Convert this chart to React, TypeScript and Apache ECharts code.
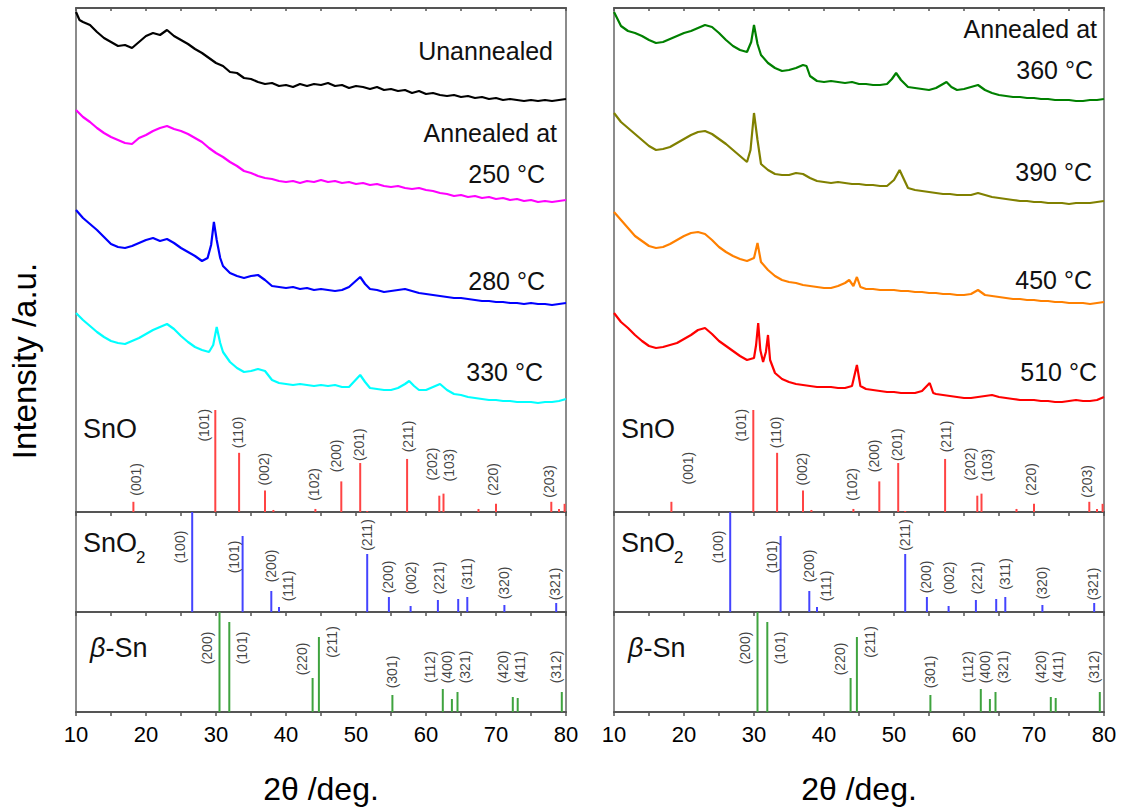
import React, { useEffect, useRef } from "react";
import * as echarts from "echarts";

const FONT = "'Liberation Sans', Arial, sans-serif";

// XRD patterns: [2θ (deg), intensity (a.u., stacked offset)]
const unannealed = [[10,500],[10.5,492],[11,490],[12,487],[13,480],[14,474],[15,470],[16,466],[17,467],[18,464],[19,470],[20,476],[21,479],[22,477],[23,482],[24,476],[25,472],[26,468],[27,463],[28,459],[29,454],[30,449],[31,446],[32,440],[33,439],[34,434],[35,433],[36,430],[37,428],[38,429],[39,426],[40,427],[41,425],[42,428],[43,426],[44,428],[45,427],[46,429],[47,426],[48,427],[49,424],[50,426],[51,425],[52,423],[53,425],[54,422],[55,423],[56,421],[57,422],[58,419],[59,421],[60,418],[61,419],[62,417],[63,416],[64,417],[65,415],[66,416],[67,414],[68,415],[69,413],[70,414],[71,412],[72,413],[73,412],[74,411],[75,412],[76,411],[77,412],[78,411],[79,412],[80,413]];
const t250 = [[10,402],[11,395],[12,390],[13,384],[14,379],[15,375],[16,372],[17,369],[18,368],[19,374],[20,377],[21,381],[22,384],[23,386],[24,383],[25,381],[26,378],[27,374],[28,370],[29,364],[30,359],[31,355],[32,350],[33,346],[34,341],[35,339],[36,336],[37,334],[38,333],[39,331],[40,330],[41,331],[42,329],[43,331],[44,330],[45,332],[46,330],[47,331],[48,329],[49,330],[50,328],[51,329],[52,327],[53,328],[54,326],[55,325],[56,326],[57,324],[58,323],[59,324],[60,322],[61,321],[62,319],[63,318],[64,316],[65,317],[66,315],[67,316],[68,314],[69,315],[70,313],[71,314],[72,312],[73,313],[74,311],[75,312],[76,310],[77,311],[78,310],[79,311],[80,312]];
const t280 = [[10,302],[11,294],[12,288],[13,282],[14,275],[15,268],[16,265],[17,264],[18,266],[19,269],[20,272],[21,274],[22,271],[23,273],[24,269],[25,264],[26,260],[27,256],[28,251],[28.8,254],[29.3,267],[29.7,290],[30.1,272],[30.6,254],[31,246],[32,239],[33,236],[34,234],[35,236],[36,237],[37,232],[38,226],[39,225],[40,224],[41,225],[42,223],[43,224],[44,222],[45,223],[46,222],[47,221],[48,222],[49,225],[49.8,230],[50.6,235],[51.3,228],[52,223],[53,222],[54,220],[55,221],[56,222],[57,223],[58,221],[59,219],[60,218],[61,217],[62,216],[63,215],[64,214],[65,214],[66,213],[67,212],[68,211],[69,211],[70,210],[71,210],[72,209],[73,209],[74,208],[75,209],[76,208],[77,208],[78,207],[79,208],[80,209]];
const t330 = [[10,199],[11,192],[12,186],[13,180],[14,175],[15,171],[16,169],[17,168],[18,171],[19,174],[20,178],[21,182],[22,185],[23,188],[24,183],[25,176],[26,170],[27,165],[28,162],[29,160],[29.6,167],[30.1,185],[30.6,169],[31,160],[32,150],[33,144],[34,140],[35,141],[36,143],[37,141],[38,132],[39,129],[40,128],[41,127],[42,128],[43,127],[44,126],[45,127],[46,126],[47,127],[48,125],[49,125],[49.8,131],[50.6,137],[51.3,130],[52,124],[53,123],[54,122],[55,122],[56,124],[57,128],[57.6,131],[58.3,126],[59,122],[60,122],[61,125],[62,128],[63,122],[64,118],[65,117],[66,115],[67,114],[68,113],[69,112],[70,112],[71,111],[72,111],[73,110],[74,110],[75,110],[76,109],[77,110],[78,110],[79,111],[80,113]];
const t360 = [[10,500],[11,486],[12,481],[13,479],[14,476],[15,472],[16,469],[17,470],[18,473],[19,476],[20,479],[21,481],[22,484],[23,487],[24,485],[25,479],[26,472],[27,466],[28,462],[29,460],[29.6,470],[30,487],[30.5,468],[31,457],[32,449],[33,444],[34,441],[35,442],[36,444],[37,447],[37.5,446],[38,436],[39,431],[40,430],[41,431],[42,430],[43,429],[44,430],[45,428],[46,428],[47,427],[48,427],[49,428],[49.7,433],[50.3,439],[51,432],[52,425],[53,424],[54,423],[55,422],[56,424],[57,428],[57.5,430],[58.2,425],[59,422],[60,423],[61,425],[62,427],[63,422],[64,419],[65,417],[66,416],[67,415],[68,415],[69,414],[70,414],[71,413],[72,413],[73,412],[74,412],[75,412],[76,411],[77,411],[78,412],[79,412],[80,413]];
const t390 = [[10,399],[11,390],[12,384],[13,378],[14,372],[15,366],[16,362],[17,363],[18,365],[19,369],[20,373],[21,377],[22,380],[23,381],[24,378],[25,373],[26,368],[27,362],[28,356],[29,350],[29.5,362],[30,399],[30.5,372],[31,348],[32,342],[33,338],[34,337],[35,337],[36,339],[37,338],[38,334],[39,331],[40,330],[41,329],[42,330],[43,329],[44,328],[45,328],[46,327],[47,327],[48,326],[49,326],[50,332],[50.8,342],[51.6,330],[52,324],[53,322],[54,321],[55,320],[56,319],[57,318],[58,318],[59,317],[60,317],[61,317],[62,319],[63,317],[64,315],[65,314],[66,313],[67,312],[68,311],[69,311],[70,310],[71,310],[72,309],[73,309],[74,309],[75,308],[76,309],[77,309],[78,309],[79,310],[80,311]];
const t450 = [[10,300],[11,292],[12,284],[13,276],[14,271],[15,266],[16,264],[17,265],[18,268],[19,272],[20,276],[21,279],[22,280],[23,278],[24,272],[25,265],[26,260],[27,256],[28,253],[29,251],[30,254],[30.5,269],[31,250],[32,242],[33,236],[34,232],[35,230],[36,229],[37,227],[38,226],[39,225],[40,224],[41,224],[42,226],[43,229],[43.6,232],[44.2,226],[44.7,235],[45.2,225],[46,223],[47,223],[48,222],[49,222],[50,222],[51,221],[52,221],[53,220],[54,220],[55,219],[56,219],[57,218],[58,218],[59,217],[60,217],[61,218],[62,222],[63,217],[64,216],[65,215],[66,214],[67,213],[68,213],[69,212],[70,212],[71,211],[72,211],[73,210],[74,210],[75,209],[76,209],[77,209],[78,208],[79,209],[80,210]];
const t510 = [[10,199],[11,190],[12,184],[13,177],[14,171],[15,166],[16,164],[17,165],[18,167],[19,169],[20,173],[21,177],[22,182],[23,184],[24,178],[25,171],[26,166],[27,161],[28,156],[29,152],[30,154],[30.3,167],[30.6,189],[30.9,162],[31.3,150],[31.7,160],[32,177],[32.3,152],[33,139],[34,133],[35,130],[36,128],[37,127],[38,126],[39,125],[40,125],[41,125],[42,124],[43,124],[44,126],[44.7,147],[45.2,126],[46,123],[47,122],[48,121],[49,120],[50,120],[51,119],[52,119],[53,119],[54,121],[55.1,129],[55.6,119],[56,118],[57,117],[58,116],[59,115],[60,114],[61,114],[62,115],[63,116],[64,117],[65,115],[66,114],[67,113],[68,112],[69,112],[70,112],[71,111],[72,111],[73,110],[74,110],[75,111],[76,112],[77,111],[78,111],[79,112],[80,115]];

// Reference patterns: [2θ, relative intensity]
const snoSticks = [[18.2,10],[29.9,100],[33.3,58],[37.0,21],[38.2,2],[44.2,3],[47.9,30],[50.6,48],[51.6,1],[57.3,52],[61.9,16],[62.5,18],[67.5,3],[70.0,8],[77.9,10],[79.0,3],[79.8,8]];
const sno2Sticks = [[26.6,100],[33.8,76],[37.9,21],[39.0,5],[51.6,58],[54.7,15],[57.8,6],[61.7,12],[64.6,13],[65.9,15],[71.2,7],[78.6,9]];
const snSticks = [[30.5,100],[31.9,90],[43.8,34],[44.7,75],[55.2,17],[62.4,23],[63.7,13],[64.5,20],[72.4,15],[73.1,14],[79.4,20]];

// Miller-index labels: [text, 2θ, height]
const snoLabels: [string, number, number][] = [["(001)",18.6,32],["(101)",28.3,85],["(110)",33.2,78],["(002)",36.9,42],["(102)",44.0,27],["(200)",47.1,55],["(201)",50.4,66],["(211)",57.4,74],["(202)",60.9,47],["(103)",63.3,46],["(220)",69.5,32],["(203)",77.6,30]];
const snoLabelsRight: [string, number, number][] = [["(001)",20.6,43],["(101)",28.2,85],["(110)",33.2,78],["(002)",36.8,42],["(102)",44.0,27],["(200)",47.1,55],["(201)",50.4,66],["(211)",57.4,74],["(202)",60.9,47],["(103)",63.3,46],["(220)",69.5,32],["(203)",77.6,30]];
const sno2Labels: [string, number, number][] = [["(100)",24.9,65],["(101)",32.5,55],["(200)",37.8,46],["(111)",40.3,26],["(211)",51.5,77],["(200)",54.6,35],["(002)",57.8,34],["(221)",61.8,34],["(311)",65.9,38],["(320)",71.2,29],["(321)",78.4,28]];
const snLabels: [string, number, number][] = [["(200)",28.7,64],["(101)",33.7,64],["(220)",42.3,53],["(211)",46.5,70],["(301)",55.1,40],["(112)",60.5,45],["(400)",63.0,45],["(321)",65.5,45],["(420)",71.0,45],["(411)",73.4,45],["(312)",78.5,45]];

const xTicks = [10, 20, 30, 40, 50, 60, 70, 80];

const leftCurves = [
  { name: "Unannealed", data: unannealed, color: "#000000" },
  { name: "250 °C", data: t250, color: "#ff00ff" },
  { name: "280 °C", data: t280, color: "#0000ff" },
  { name: "330 °C", data: t330, color: "#00ffff" },
];
const rightCurves = [
  { name: "360 °C", data: t360, color: "#008000" },
  { name: "390 °C", data: t390, color: "#808000" },
  { name: "450 °C", data: t450, color: "#ff8000" },
  { name: "510 °C", data: t510, color: "#ff0000" },
];

const leftNotes: [string, number, number][] = [["Unannealed",553,51],["Annealed at",557,133],["250 °C",545,174],["280 °C",545,281],["330 °C",543,372]];
const rightNotes: [string, number, number][] = [["Annealed at",1097,29],["360 °C",1093,70],["390 °C",1092,172],["450 °C",1092,280],["510 °C",1097,372]];

const AX = "#555";
const SNO_COLOR = "#ff4444";
const SNO2_COLOR = "#4444ff";
const SN_COLOR = "#3fa33f";

function buildOption() {
  const grid: any[] = [];
  const xAxis: any[] = [];
  const yAxis: any[] = [];
  const series: any[] = [];
  const graphic: any[] = [];
  const panels = [
    { left: 76, curves: leftCurves, notes: leftNotes, snoLab: snoLabels },
    { left: 614, curves: rightCurves, notes: rightNotes, snoLab: snoLabelsRight },
  ];
  const W = 490;
  const bottomAxis = (gi: number, labels: boolean) => ({
    type: "value", gridIndex: gi, min: xTicks[0], max: xTicks[xTicks.length - 1], interval: 10, position: "bottom",
    axisLine: { show: true, onZero: false, lineStyle: { color: AX, width: 2 } },
    axisTick: { show: true, inside: false, length: 4, lineStyle: { color: AX, width: 1.5 } },
    minorTick: { show: true, splitNumber: 2, length: 4, lineStyle: { color: AX, width: 1.5 } },
    splitLine: { show: false }, minorSplitLine: { show: false },
    axisLabel: { show: labels, fontSize: 22, color: "#000", margin: 11, fontFamily: FONT, showMinLabel: true, showMaxLabel: true },
  });
  panels.forEach((p, pi) => {
    const gb = pi * 4;
    const xb = pi * 5;
    grid.push({ left: p.left, top: 8, width: W, height: 504, show: true, borderColor: "#666", borderWidth: 1.5, backgroundColor: "transparent" });
    grid.push({ left: p.left, top: 8, width: W, height: 504, show: false });
    grid.push({ left: p.left, top: 512, width: W, height: 100, show: true, borderColor: "#666", borderWidth: 1.5, backgroundColor: "transparent" });
    grid.push({ left: p.left, top: 612, width: W, height: 100, show: true, borderColor: "#666", borderWidth: 1.5, backgroundColor: "transparent" });
    xAxis.push(bottomAxis(gb, false));
    xAxis.push({ type: "value", gridIndex: gb + 1, min: 10, max: 80, show: false });
    xAxis.push(bottomAxis(gb + 2, false));
    xAxis.push(bottomAxis(gb + 3, true));
    xAxis.push({
      type: "value", gridIndex: gb, min: 10, max: 80, interval: 5, position: "top",
      axisLine: { show: true, onZero: false, lineStyle: { color: AX, width: 2 } },
      axisTick: { show: true, inside: true, length: 3, lineStyle: { color: AX, width: 1.5 } },
      axisLabel: { show: false }, splitLine: { show: false },
    });
    yAxis.push({ type: "value", gridIndex: gb, min: 0, max: 494, show: false });
    yAxis.push({ type: "value", gridIndex: gb + 1, min: 0, max: 504, show: false });
    yAxis.push({ type: "value", gridIndex: gb + 2, min: 0, max: 100, show: false });
    yAxis.push({ type: "value", gridIndex: gb + 3, min: 0, max: 100, show: false });

    p.curves.forEach((c) => {
      series.push({
        type: "line", name: c.name, data: c.data, xAxisIndex: xb + 1, yAxisIndex: gb + 1,
        showSymbol: false, symbol: "none", lineStyle: { color: c.color, width: 2.2 }, itemStyle: { color: c.color }, silent: true,
      });
    });
    const sticks = [
      { data: snoSticks, color: SNO_COLOR, labels: p.snoLab, xi: xb, yi: gb },
      { data: sno2Sticks, color: SNO2_COLOR, labels: sno2Labels, xi: xb + 2, yi: gb + 2 },
      { data: snSticks, color: SN_COLOR, labels: snLabels, xi: xb + 3, yi: gb + 3 },
    ];
    sticks.forEach((s) => {
      series.push({
        type: "bar", data: s.data, xAxisIndex: s.xi, yAxisIndex: s.yi, barWidth: 2,
        itemStyle: { color: s.color }, silent: true,
      });
      series.push({
        type: "scatter", xAxisIndex: s.xi, yAxisIndex: s.yi, symbolSize: 1, silent: true,
        itemStyle: { color: "transparent" },
        data: s.labels.map((l) => ({ name: l[0], value: [l[1], l[2]] })),
        label: { show: true, position: "inside", rotate: 90, formatter: "{b}", fontSize: 14, color: "#111", fontFamily: FONT },
      });
    });

    // section labels
    const ox = p.left + 7;
    graphic.push({ type: "text", x: ox, y: 429, style: { text: "SnO", fontSize: 27, fontFamily: FONT, fill: "#111", align: "left", verticalAlign: "middle" } });
    graphic.push({ type: "text", x: ox, y: 543, style: { text: "SnO", fontSize: 27, fontFamily: FONT, fill: "#111", align: "left", verticalAlign: "middle" } });
    graphic.push({ type: "text", x: ox + 53, y: 557, style: { text: "2", fontSize: 17, fontFamily: FONT, fill: "#111", align: "left", verticalAlign: "middle" } });
    graphic.push({
      type: "text", x: ox + 7, y: 648,
      style: { text: "{i|β}-Sn", fontSize: 27, fontFamily: FONT, fill: "#111", align: "left", verticalAlign: "middle",
        rich: { i: { fontStyle: "italic", fontSize: 27, fontFamily: FONT, fill: "#111" } } },
    });
    p.notes.forEach((n) => {
      graphic.push({ type: "text", x: n[1], y: n[2], style: { text: n[0], fontSize: 25, fontFamily: FONT, fill: "#111", align: "right", verticalAlign: "middle" } });
    });
    graphic.push({ type: "text", x: p.left + W / 2, y: 789, style: { text: "2θ /deg.", fontSize: 32, fontFamily: FONT, fill: "#000", align: "center", verticalAlign: "middle" } });
  });
  graphic.push({ type: "text", x: 24, y: 361, rotation: Math.PI / 2, style: { text: "Intensity /a.u.", fontSize: 33, fontFamily: FONT, fill: "#000", align: "center", verticalAlign: "middle" } });

  return { animation: false, backgroundColor: "#fff", grid, xAxis, yAxis, series, graphic };
}

export default function App() {
  const ref = useRef<HTMLDivElement>(null);
  useEffect(() => {
    if (!ref.current) return;
    const chart = echarts.init(ref.current, undefined, { renderer: "svg" });
    chart.setOption(buildOption() as any);
    return () => chart.dispose();
  }, []);
  return <div ref={ref} style={{ position: "absolute", left: 0, top: 0, width: 1122, height: 808, background: "#fff" }} />;
}
